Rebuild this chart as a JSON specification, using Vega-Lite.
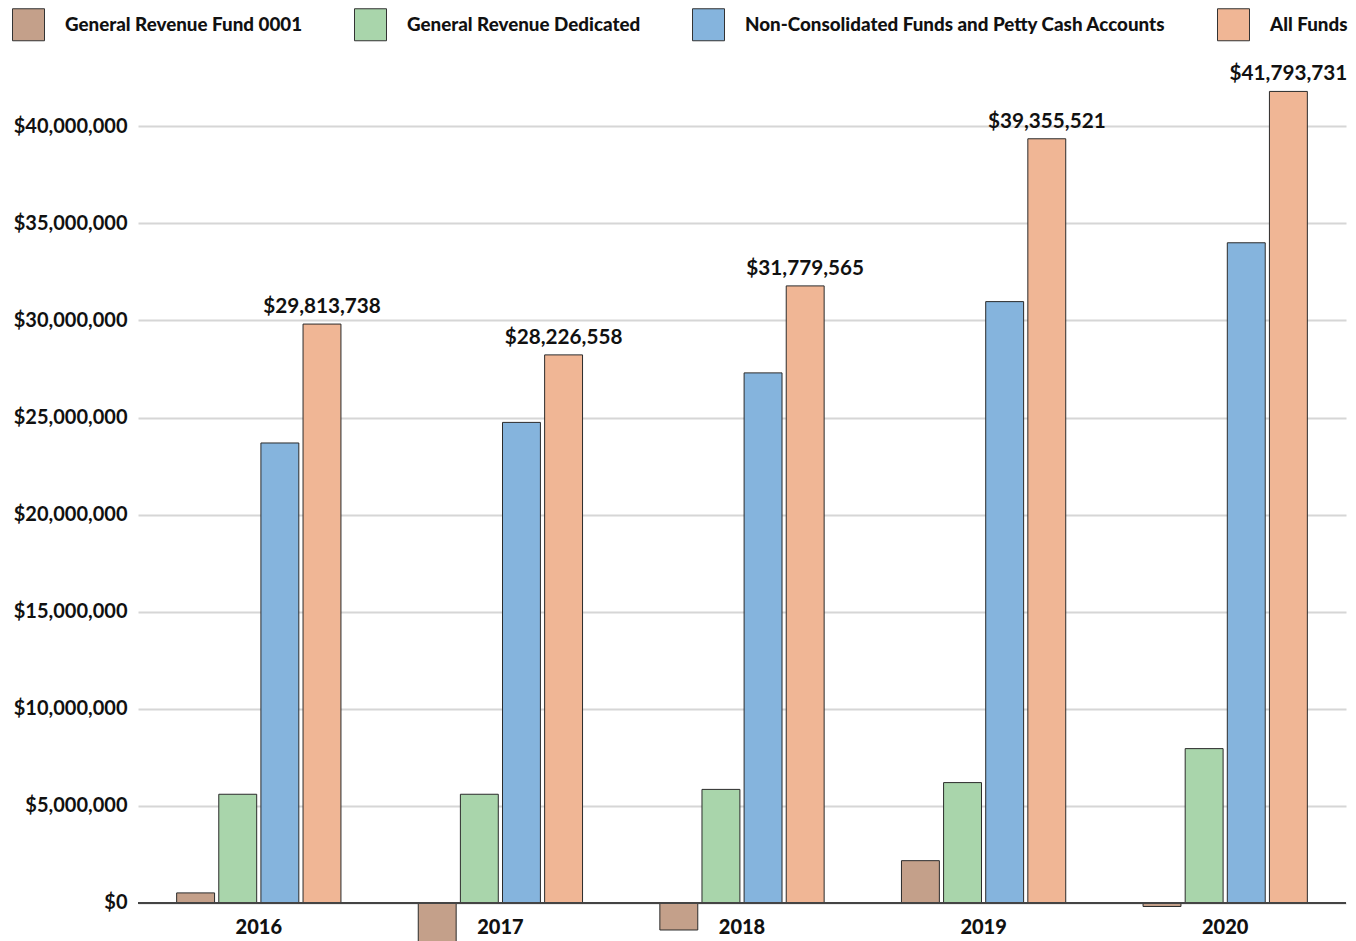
{
  "$schema": "https://vega.github.io/schema/vega-lite/v6.json",
  "autosize": {"type": "none"},
  "width": 1208,
  "height": 886,
  "padding": {"left": 138, "top": 55, "right": 10, "bottom": 0},
  "background": "white",
  "config": {
    "font": "Lato",
    "view": {"stroke": null}
  },
  "data": {
    "values": [
      {"year": "2016", "fund": "General Revenue Fund 0001", "value": 520000},
      {"year": "2016", "fund": "General Revenue Dedicated", "value": 5600000},
      {"year": "2016", "fund": "Non-Consolidated Funds and Petty Cash Accounts", "value": 23690000},
      {"year": "2016", "fund": "All Funds", "value": 29813738},
      {"year": "2017", "fund": "General Revenue Fund 0001", "value": -2120000},
      {"year": "2017", "fund": "General Revenue Dedicated", "value": 5600000},
      {"year": "2017", "fund": "Non-Consolidated Funds and Petty Cash Accounts", "value": 24750000},
      {"year": "2017", "fund": "All Funds", "value": 28226558},
      {"year": "2018", "fund": "General Revenue Fund 0001", "value": -1390000},
      {"year": "2018", "fund": "General Revenue Dedicated", "value": 5850000},
      {"year": "2018", "fund": "Non-Consolidated Funds and Petty Cash Accounts", "value": 27300000},
      {"year": "2018", "fund": "All Funds", "value": 31779565},
      {"year": "2019", "fund": "General Revenue Fund 0001", "value": 2180000},
      {"year": "2019", "fund": "General Revenue Dedicated", "value": 6200000},
      {"year": "2019", "fund": "Non-Consolidated Funds and Petty Cash Accounts", "value": 30970000},
      {"year": "2019", "fund": "All Funds", "value": 39355521},
      {"year": "2020", "fund": "General Revenue Fund 0001", "value": -180000},
      {"year": "2020", "fund": "General Revenue Dedicated", "value": 7950000},
      {"year": "2020", "fund": "Non-Consolidated Funds and Petty Cash Accounts", "value": 34000000},
      {"year": "2020", "fund": "All Funds", "value": 41793731}
    ]
  },
  "encoding": {
    "x": {
      "field": "year",
      "type": "nominal",
      "scale": {"paddingInner": 0.32, "paddingOuter": 0.16},
      "axis": null
    },
    "y": {
      "field": "value",
      "type": "quantitative",
      "scale": {"domain": [-1957000, 43670000], "nice": false, "zero": false},
      "axis": {
        "title": null,
        "values": [0, 5000000, 10000000, 15000000, 20000000, 25000000, 30000000, 35000000, 40000000],
        "format": "$,.0f",
        "labelFont": "Lato",
        "labelFontSize": 20,
        "labelFontWeight": "bold",
        "labelColor": "#111111",
        "labelPadding": 11,
        "ticks": false,
        "domain": false,
        "grid": true,
        "gridColor": "#d6d6d6",
        "gridWidth": 2
      }
    }
  },
  "layer": [
    {
      "mark": {"type": "bar", "stroke": "#2b2b2b", "strokeWidth": 1, "clip": true},
      "encoding": {
        "xOffset": {
          "field": "fund",
          "type": "nominal",
          "scale": {
            "domain": ["General Revenue Fund 0001", "General Revenue Dedicated", "Non-Consolidated Funds and Petty Cash Accounts", "All Funds"],
            "paddingInner": 0.1,
            "paddingOuter": 0
          }
        },
        "color": {
          "field": "fund",
          "type": "nominal",
          "scale": {
            "domain": ["General Revenue Fund 0001", "General Revenue Dedicated", "Non-Consolidated Funds and Petty Cash Accounts", "All Funds"],
            "range": ["#c4a08a", "#a9d5ab", "#85b4dd", "#f0b695"]
          },
          "legend": {
            "title": null,
            "orient": "none",
            "legendX": -126,
            "legendY": -47,
            "direction": "horizontal",
            "columns": 4,
            "columnPadding": 49,
            "symbolType": "square",
            "symbolSize": 1024,
            "symbolStrokeColor": "#333333",
            "symbolStrokeWidth": 1,
            "symbolOpacity": 1,
            "labelFont": "Lato",
            "labelFontSize": 18.8,
            "labelFontWeight": 900,
            "labelColor": "#111111",
            "labelOffset": 20,
            "labelLimit": 600
          }
        }
      }
    },
    {
      "mark": {"type": "rule", "color": "#444444", "strokeWidth": 2},
      "encoding": {"y": {"datum": 0}, "x": null}
    },
    {
      "transform": [{"filter": "datum.fund === 'All Funds'"}],
      "mark": {"type": "text", "baseline": "bottom", "dy": -7, "font": "Lato", "fontSize": 20.7, "fontWeight": "bold", "color": "#111111"},
      "encoding": {
        "xOffset": {
          "field": "fund",
          "type": "nominal",
          "scale": {
            "domain": ["General Revenue Fund 0001", "General Revenue Dedicated", "Non-Consolidated Funds and Petty Cash Accounts", "All Funds"],
            "paddingInner": 0.1,
            "paddingOuter": 0
          }
        },
        "text": {"field": "value", "type": "quantitative", "format": "$,.0f"}
      }
    },
    {
      "transform": [{"filter": "datum.fund === 'All Funds'"}],
      "mark": {"type": "text", "baseline": "middle", "dy": 25, "font": "Lato", "fontSize": 20, "fontWeight": 900, "color": "#111111"},
      "encoding": {
        "y": {"datum": 0},
        "text": {"field": "year", "type": "nominal"}
      }
    }
  ]
}
